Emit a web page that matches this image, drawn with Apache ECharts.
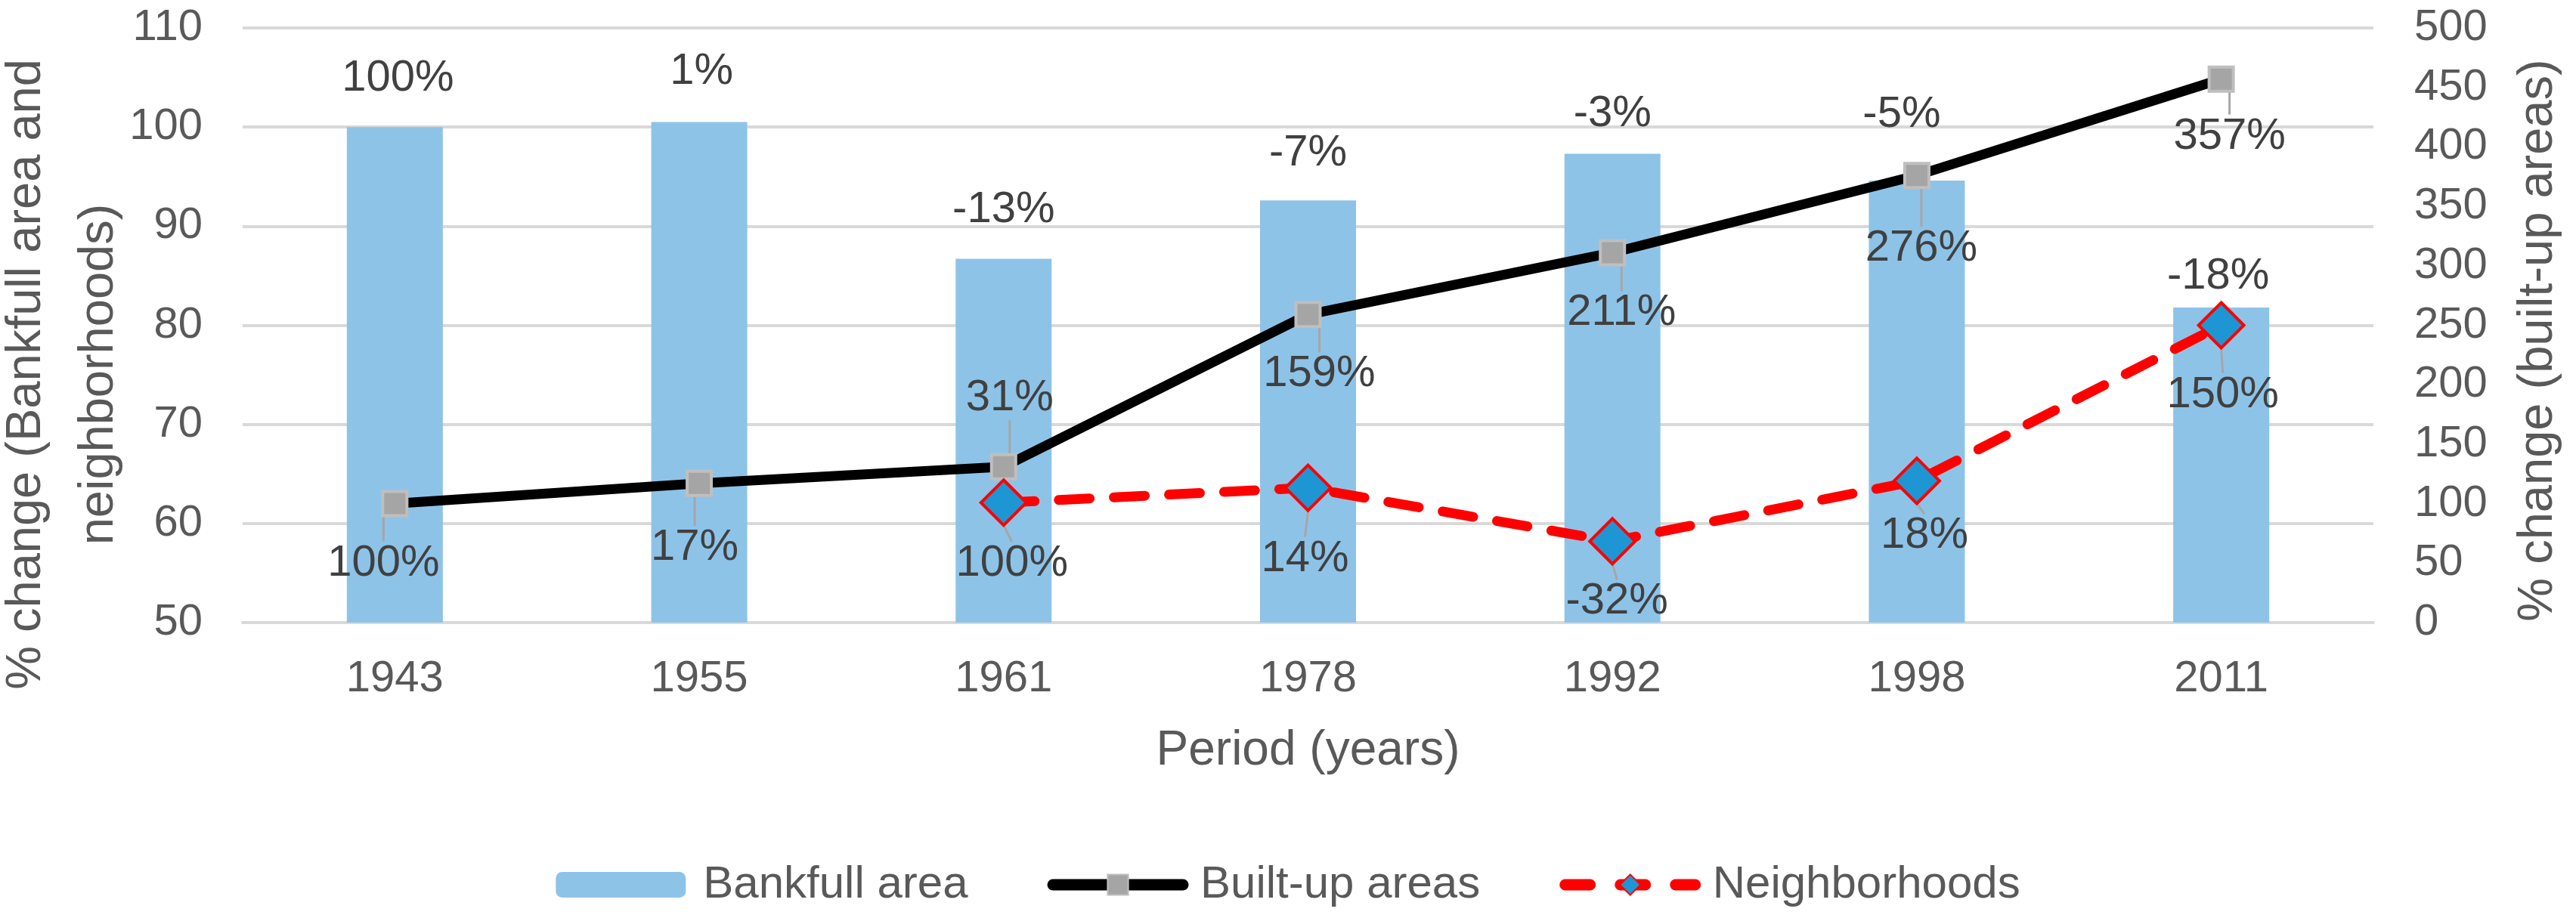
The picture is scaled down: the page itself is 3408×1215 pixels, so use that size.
<!DOCTYPE html>
<html>
<head>
<meta charset="utf-8">
<script src="https://cdn.jsdelivr.net/npm/echarts@6/dist/echarts.min.js"></script>
<style>
  html, body { margin: 0; padding: 0; background: #fff; }
  #chart { width: 3408px; height: 1215px; }
</style>
</head>
<body>
<div id="chart"></div>
<script>
var years = ['1943', '1955', '1961', '1978', '1992', '1998', '2011'];

var bankfull = [100, 100.5, 86.7, 92.6, 97.3, 94.6, 81.8];
var bankfullLabels = ['100%', '1%', '-13%', '-7%', '-3%', '-5%', '-18%'];

var builtUp = [100, 117, 131, 259, 311, 376, 457];
var builtUpLabels = ['100%', '17%', '31%', '159%', '211%', '276%', '357%'];

var neighborhoods = ['-', '-', 62.1, 63.6, 58.2, 64.3, 80];
var neighborhoodsLabels = ['', '', '100%', '14%', '-32%', '18%', '150%'];

var leftTicks = { min: 50, max: 110, interval: 10 };
var rightTicks = { min: 0, max: 500, interval: 50 };

// label nudges (px) for the hand placed excel labels
var bankfullLabelDx = [4, 3, 0, 0, 0, -20, -4];
var bankfullLabelDy = [-64, -67, -65, -62, -53, -87, -41];
var builtUpLabelDx = [-15, -6, 8, 15, 12, 6, 11];
var builtUpLabelDy = [79, 85, -91, 79, 80, 97, 76];
var neighLabelDx = [0, 0, 11, -4, 6, 10, 2];
var neighLabelDy = [0, 0, 81, 94, 80, 73, 92];

var font = 'Liberation Sans, Arial, sans-serif';
var chart = echarts.init(document.getElementById('chart'));

var option = {
    animation: false,
    textStyle: { fontFamily: font },
    grid: { left: 321, right: 268, top: 37, bottom: 391, containLabel: false, outerBoundsMode: 'none' },
    legend: {
        top: 1136,
        left: 'center',
        itemWidth: 172,
        itemHeight: 34,
        itemGap: 105,
        textStyle: { fontSize: 60, color: '#595959', fontFamily: font, padding: [0, 0, 0, 18] },
        data: [
            { name: 'Bankfull area' },
            { name: 'Built-up areas', lineStyle: { width: 15, cap: 'round' } },
            { name: 'Neighborhoods', lineStyle: { width: 15, type: [33, 40], cap: 'round' } }
        ]
    },
    xAxis: {
        type: 'category',
        data: years,
        name: 'Period (years)',
        nameLocation: 'middle',
        nameGap: 138,
        nameMoveOverlap: false,
        nameTextStyle: { fontSize: 64, color: '#595959' },
        axisLine: { lineStyle: { color: '#d9d9d9', width: 4 } },
        axisTick: { show: false },
        axisLabel: { fontSize: 58, color: '#595959', margin: 46 }
    },
    yAxis: [
        {
            type: 'value',
            min: leftTicks.min,
            max: leftTicks.max,
            interval: leftTicks.interval,
            name: '% change (Bankfull area and\nneighborhoods)',
            nameLocation: 'middle',
            nameRotate: 90,
            nameGap: 142,
            nameMoveOverlap: false,
            nameTextStyle: { fontSize: 65, color: '#595959', lineHeight: 96, padding: [0, 130, 0, 0] },
            axisLine: { show: false },
            axisTick: { show: false },
            axisLabel: { fontSize: 58, color: '#595959', margin: 53 },
            splitLine: { lineStyle: { color: '#d9d9d9', width: 4 } }
        },
        {
            type: 'value',
            min: rightTicks.min,
            max: rightTicks.max,
            interval: rightTicks.interval,
            name: '% change (built-up areas)',
            nameLocation: 'middle',
            nameRotate: 90,
            nameGap: 186,
            nameMoveOverlap: false,
            nameTextStyle: { fontSize: 65, color: '#595959', padding: [0, 40, 0, 0] },
            axisLine: { show: false },
            axisTick: { show: false },
            axisLabel: { fontSize: 58, color: '#595959', margin: 54 },
            splitLine: { show: false }
        }
    ],
    series: [
        {
            name: 'Bankfull area',
            type: 'bar',
            yAxisIndex: 0,
            data: bankfull,
            barWidth: 127,
            itemStyle: { color: '#8ec3e8' },
            label: {
                show: true,
                position: 'top',
                distance: 0,
                fontSize: 58,
                color: '#404040',
                formatter: function (p) { return bankfullLabels[p.dataIndex]; }
            },
            labelLayout: function (p) {
                return { dx: bankfullLabelDx[p.dataIndex], dy: bankfullLabelDy[p.dataIndex] + 29 };
            },
            z: 1
        },
        {
            name: 'Built-up areas',
            type: 'line',
            yAxisIndex: 1,
            data: builtUp,
            symbol: 'rect',
            symbolSize: 32,
            lineStyle: { color: '#000000', width: 13 },
            itemStyle: { color: '#a5a5a5', borderColor: '#bfbfbf', borderWidth: 4 },
            label: {
                show: true,
                position: 'inside',
                fontSize: 58,
                color: '#404040',
                formatter: function (p) { return builtUpLabels[p.dataIndex]; }
            },
            labelLayout: function (p) {
                return { dx: builtUpLabelDx[p.dataIndex], dy: builtUpLabelDy[p.dataIndex] };
            },
            labelLine: { show: true, lineStyle: { color: '#a6a6a6', width: 3 } },
            z: 3
        },
        {
            name: 'Neighborhoods',
            type: 'line',
            yAxisIndex: 0,
            data: neighborhoods,
            symbol: 'diamond',
            symbolSize: 60,
            lineStyle: { color: '#ff0000', width: 13, type: [41, 32], cap: 'round' },
            itemStyle: { color: '#1e96d3', borderColor: '#ff0000', borderWidth: 4 },
            label: {
                show: true,
                position: 'inside',
                fontSize: 58,
                color: '#404040',
                formatter: function (p) { return neighborhoodsLabels[p.dataIndex]; }
            },
            labelLayout: function (p) {
                return { dx: neighLabelDx[p.dataIndex], dy: neighLabelDy[p.dataIndex] };
            },
            labelLine: { show: true, lineStyle: { color: '#a6a6a6', width: 3 } },
            z: 4
        }
    ]
};
chart.setOption(option);
</script>
</body>
</html>
